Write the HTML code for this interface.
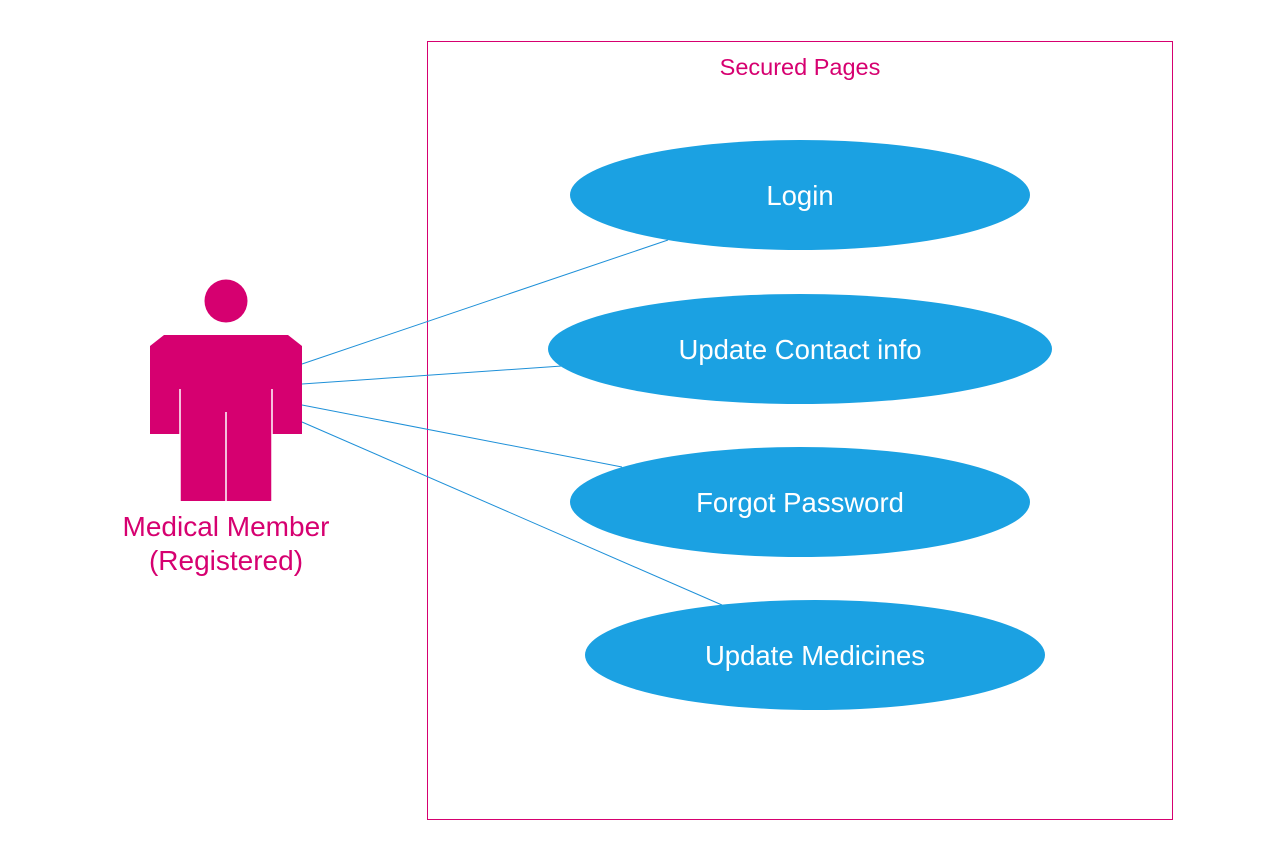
<!DOCTYPE html>
<html><head><style>
body{margin:0;background:#fff;}
svg{display:block;}
text{font-family:"Segoe UI","Liberation Sans",sans-serif;}
</style></head><body>
<svg width="1271" height="864" viewBox="0 0 1271 864">
<rect x="427.5" y="41.5" width="745" height="778" fill="none" stroke="#d60070" stroke-width="1"/>
<text x="800" y="75" text-anchor="middle" font-size="23.5" fill="#d60070">Secured Pages</text>
<g stroke="#1e90d8" stroke-width="1">
<line x1="302" y1="364" x2="668" y2="240"/>
<line x1="302" y1="384" x2="562" y2="366"/>
<line x1="302" y1="405" x2="622" y2="467"/>
<line x1="302" y1="422" x2="722" y2="605"/>
</g>
<g fill="#1ba1e2">
<ellipse cx="800" cy="195" rx="230" ry="55"/>
<ellipse cx="800" cy="349" rx="252" ry="55"/>
<ellipse cx="800" cy="502" rx="230" ry="55"/>
<ellipse cx="815" cy="655" rx="230" ry="55"/>
</g>
<g fill="#fff" font-size="27.5" text-anchor="middle">
<text x="800" y="205">Login</text>
<text x="800" y="359">Update Contact info</text>
<text x="800" y="512">Forgot Password</text>
<text x="815" y="665">Update Medicines</text>
</g>
<circle cx="226" cy="301" r="21.5" fill="#d60070"/>
<polygon fill="#d60070" points="164,335 288,335 302,346 302,434 272,434 272,501 180,501 180,434 150,434 150,346"/>
<g stroke="#fff" stroke-width="1.5">
<line x1="180" y1="389" x2="180" y2="502"/>
<line x1="272" y1="389" x2="272" y2="502"/>
<line x1="226" y1="412" x2="226" y2="502"/>
</g>
<text x="226" y="536" text-anchor="middle" font-size="28" fill="#d60070">Medical Member</text>
<text x="226" y="570" text-anchor="middle" font-size="28" fill="#d60070">(Registered)</text>
</svg>
</body></html>
